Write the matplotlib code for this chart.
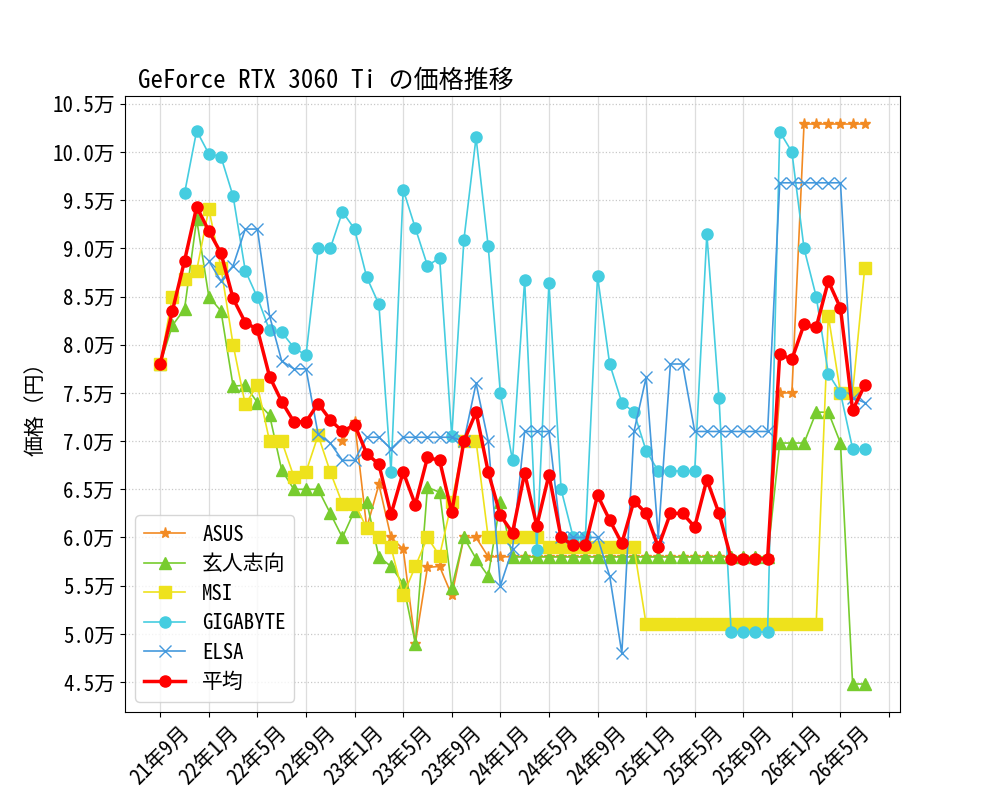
import numpy as np
import matplotlib
matplotlib.use('Agg')
import matplotlib.pyplot as plt
from matplotlib.ticker import FuncFormatter, MultipleLocator

plt.rcParams['font.family'] = ['Noto Sans Mono CJK JP', 'Noto Sans CJK JP', 'DejaVu Sans']
plt.rcParams['font.size'] = 15

nan = np.nan

# 21年9月 .. 26年7月 (monthly, 59 points)
asus = [nan, nan, nan, nan, nan, nan, nan, nan, nan, nan,
        nan, nan, nan, nan, nan, 70000, 72000, 61000, 65500, 60000,
        58800, 49000, 56900, 57000, 54000, 60000, 60000, 58000, 58000, 58000,
        58000, 58000, 58000, 58000, 58000, 58000, 58000, 58000, 58000, 58000,
        58000, 58000, 58000, 58000, 58000, 58000, 58000, 58000, 58000, 58000,
        58000, 75000, 75000, 102900, 102900, 102900, 102900, 102900, 102900]
kurouto = [78000, 82000, 83700, 93000, 85000, 83500, 75700, 75800, 74000, 72700,
           67000, 65000, 65000, 65000, 62500, 60000, 62800, 63700, 58000, 57000,
           55200, 49000, 65200, 64700, 54800, 60000, 57800, 56000, 63700, 58000,
           58000, 58000, 58000, 58000, 58000, 58000, 58000, 58000, 58000, 58000,
           58000, 58000, 58000, 58000, 58000, 58000, 58000, 58000, 58000, 58000,
           58000, 69800, 69800, 69800, 73000, 73000, 69800, 44800, 44800]
msi = [78000, 85000, 86800, 87700, 94100, 88000, 80000, 73800, 75800, 70000,
       70000, 66300, 66800, 70600, 66800, 63500, 63500, 61000, 60000, 59000,
       54000, 57000, 60000, 58100, 63700, 70000, 70000, 60000, 60000, 60000,
       60000, 60000, 59000, 59000, 59000, 59000, 59000, 59000, 59000, 59000,
       51000, 51000, 51000, 51000, 51000, 51000, 51000, 51000, 51000, 51000,
       51000, 51000, 51000, 51000, 51000, 83000, 75000, 75000, 88000]
gigabyte = [nan, nan, 95700, 102200, 99800, 99500, 95400, 87700, 84900, 81500,
            81300, 79700, 78900, 90000, 90000, 93800, 92000, 87000, 84200, 66800,
            96100, 92100, 88200, 89000, 70500, 90900, 101500, 90200, 75000, 68000,
            86700, 58700, 86400, 65000, 60000, 60000, 87100, 78000, 74000, 73000,
            69000, 66900, 66900, 66900, 66900, 91500, 74500, 50200, 50200, 50200,
            50200, 102100, 100000, 90000, 85000, 77000, 75000, 69200, 69200]
elsa = [nan, nan, nan, nan, 88700, 86600, 88200, 92000, 92000, 83000,
        78300, 77500, 77500, 70700, 69800, 68000, 68000, 70400, 70400, 69200,
        70400, 70400, 70400, 70400, 70400, 70000, 76000, 70000, 55000, 58800,
        71000, 71000, 71000, 60000, 60000, 60000, 60000, 56000, 48000, 71000,
        76600, 60000, 78000, 78000, 71000, 71000, 71000, 71000, 71000, 71000,
        71000, 96800, 96800, 96800, 96800, 96800, 96800, 74500, 74000]
average = [78000, 83500, 88700, 94300, 91800, 89500, 84800, 82300, 81600, 76700,
           74100, 72000, 72000, 73900, 72200, 71000, 71700, 68700, 67600, 62400,
           66800, 63400, 68300, 68000, 62600, 70000, 73000, 66800, 62300, 60500,
           66700, 61200, 66500, 60000, 59200, 59200, 64400, 61800, 59400, 63800,
           62500, 59000, 62500, 62500, 61100, 66000, 62500, 57800, 57800, 57800,
           57800, 79000, 78500, 82100, 81800, 86600, 83800, 73200, 75800]

tick_labels = ["21年9月", "22年1月", "22年5月", "22年9月", "23年1月", "23年5月",
               "23年9月", "24年1月", "24年5月", "24年9月", "25年1月", "25年5月",
               "25年9月", "26年1月", "26年5月", ""]

x = np.arange(len(average))

fig, ax = plt.subplots(figsize=(10, 8), dpi=100)
ax.plot(x, asus, marker='*', color='#f28a22', lw=1.2, ms=8, label='ASUS')
ax.plot(x, kurouto, marker='^', color='#77cc2e', lw=1.2, ms=8, label='玄人志向')
ax.plot(x, msi, marker='s', color='#eee21c', lw=1.2, ms=8.5, label='MSI')
ax.plot(x, gigabyte, marker='o', color='#45cde0', lw=1.2, ms=8, label='GIGABYTE')
ax.plot(x, elsa, marker='x', color='#4499dd', lw=1.2, ms=8, label='ELSA')
ax.plot(x, average, marker='o', color='red', lw=2.5, ms=8, label='平均')

ax.set_xticks(np.arange(0, 61, 4))
ax.set_xticklabels(tick_labels, rotation=45)
ax.yaxis.set_major_locator(MultipleLocator(5000))
ax.yaxis.set_major_formatter(FuncFormatter(lambda v, p: f"{v/10000:.1f}万"))
ax.set_ylabel('価格（円）')
ax.set_title('GeForce RTX 3060 Ti の価格推移', loc='left', x=0.017)
ax.grid(True, axis='x', color='#dddddd', linestyle='-', linewidth=0.9)
ax.grid(True, axis='y', color='#c8c8c8', linestyle=':', linewidth=0.9)
ax.legend(loc='lower left', labelspacing=0.36)

plt.savefig('out.png')
